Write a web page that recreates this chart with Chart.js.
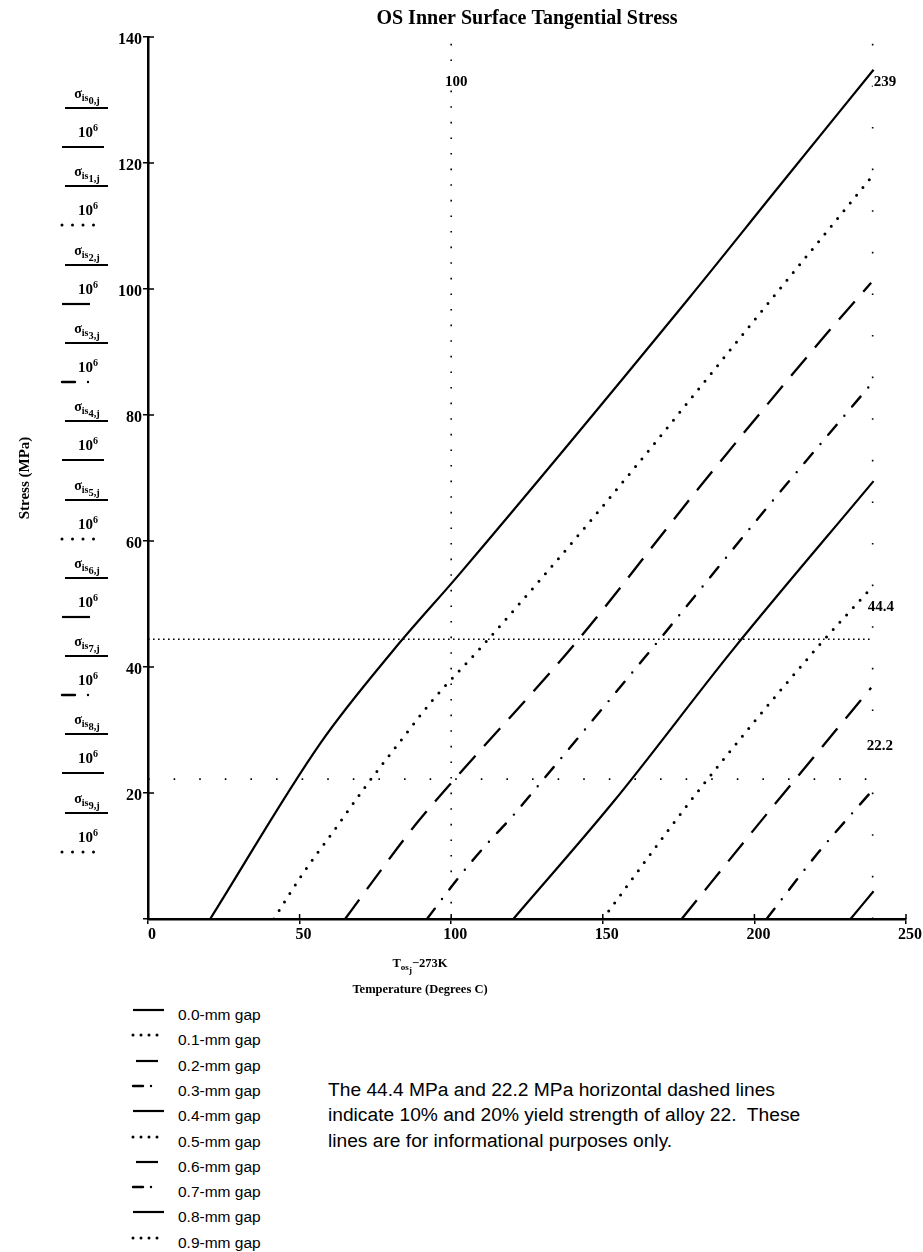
<!DOCTYPE html>
<html>
<head>
<meta charset="utf-8">
<script src="https://cdn.jsdelivr.net/npm/chart.js@4.4.0/dist/chart.umd.min.js"></script>
<style>
  body { margin: 0; background: #fff; }
  #page { position: relative; width: 923px; height: 1252px; background: #fff; overflow: hidden; }
  #chart { position: absolute; left: 0; top: 0; }
  .serif { font-family: "Liberation Serif", "DejaVu Serif", serif; font-weight: bold; color: #000; }
  .abs { position: absolute; }
  .num { width: 50px; text-align: center; font-size: 14px; line-height: 16px; white-space: nowrap; }
  .num sub { font-size: 10px; vertical-align: -3px; }
  .num sub sub { font-size: 10.5px; vertical-align: -3px; }
  .den { width: 50px; text-align: center; font-size: 15px; line-height: 16px; }
  .den sup { font-size: 10px; vertical-align: 6px; }
  .bar { height: 0; border-top: 2px solid #000; }
  .xexpr { left: 340px; width: 160px; top: 956px; text-align: center; font-size: 12.5px; line-height: 15px; }
  .xexpr sub { font-size: 9px; vertical-align: -3px; }
  .xtitle { left: 320px; width: 200px; top: 982px; text-align: center; font-size: 12.5px; line-height: 15px; }
  .gap { left: 178px; font-family: "Liberation Sans", Arial, sans-serif; font-size: 15.5px; line-height: 18px; color: #000; }
  .note { left: 328px; top: 1077px; font-family: "Liberation Sans", Arial, sans-serif; font-size: 19.2px; line-height: 25.4px; color: #000; white-space: nowrap; }
</style>
</head>
<body>
<div id="page">
  <canvas id="chart" width="923" height="1000"></canvas>
  <div class="abs serif xexpr">T<sub>os<sub>j</sub></sub>−273K</div>
  <div class="abs serif xtitle">Temperature (Degrees C)</div>
  <div class="abs note">The 44.4 MPa and 22.2 MPa horizontal dashed lines<br>indicate 10% and 20% yield strength of alloy 22.&nbsp; These<br>lines are for informational purposes only.</div>
</div>
<script>
// axes
const xTicks = [0, 50, 100, 150, 200, 250];
const yTicks = [0, 20, 40, 60, 80, 100, 120, 140];

const gapLabels = ['0.0-mm gap', '0.1-mm gap', '0.2-mm gap', '0.3-mm gap', '0.4-mm gap',
                   '0.5-mm gap', '0.6-mm gap', '0.7-mm gap', '0.8-mm gap', '0.9-mm gap'];

// temperature (deg C) / stress (MPa), one pair per gap
const t0 = [20.5, 57, 81, 103, 178, 208.5, 239.3];
const s0 = [0, 28, 42.7, 54.9, 98.3, 116.5, 134.8];
const t1 = [41.5, 51.2, 61, 72, 84, 94, 110, 147, 205, 239];
const s1 = [0, 7.3, 13.8, 21.2, 28.7, 34.8, 43.2, 63.8, 98, 118];
const t2 = [65, 72, 88.6, 103, 141, 182, 224, 238.5];
const s2 = [0, 4.6, 15.2, 23.2, 43.8, 68.6, 93, 101];
const t3 = [92, 102.3, 111, 120, 128.4, 166.7, 204, 238.3];
const s3 = [0, 6.5, 11.5, 16.2, 21, 43.2, 65.2, 84.8];
const t4 = [120.5, 153.5, 193, 239.3];
const s4 = [0, 18.6, 42.8, 69.5];
const t5 = [150, 180, 220, 237.5];
const s5 = [0, 19.4, 42.7, 52];
const t6 = [176, 204.3, 238.5];
const s6 = [0, 16.8, 36.7];
const t7 = [204, 221, 238.5];
const s7 = [0, 10.5, 20.2];
const t8 = [231.7, 239.3];
const s8 = [0, 4.4];
const t9 = [];
const s9 = [];

// marker lines
const markerX = [100, 239];
const markerY = [44.4, 22.2];

const temps = [t0, t1, t2, t3, t4, t5, t6, t7, t8, t9];
const stresses = [s0, s1, s2, s3, s4, s5, s6, s7, s8, s9];

const lineStyles = {
    solid:   { dash: [], cap: 'butt', width: 2.2 },
    dotted:  { dash: [0, 10], cap: 'round', width: 3 },
    dashed:  { dash: [24, 13], cap: 'butt', width: 2.3 },
    dashdot: { dash: [13, 12, 0, 12], cap: 'round', width: 2.4 }
};
const styleOrder = ['solid', 'dotted', 'dashed', 'dashdot'];

const curveSets = temps.map((t, i) => {
    const st = lineStyles[styleOrder[i % 4]];
    return {
        label: gapLabels[i],
        data: t.map((v, k) => ({ x: v, y: stresses[i][k] })),
        showLine: true,
        borderColor: '#000',
        borderWidth: st.width,
        borderDash: st.dash,
        borderCapStyle: st.cap,
        pointRadius: 0,
        cubicInterpolationMode: 'monotone',
        fill: false
    };
});

const yMax = yTicks[yTicks.length - 1];
function marker(points, dash) {
    return {
        label: 'marker',
        data: points,
        showLine: true,
        borderColor: '#000',
        borderWidth: 1.6,
        borderDash: dash,
        pointRadius: 0,
        fill: false
    };
}
const markerSets = [
    marker([{ x: markerX[0], y: 0 }, { x: markerX[0], y: yMax }], [1.6, 14]),
    marker([{ x: markerX[1], y: 0 }, { x: markerX[1], y: yMax }], [1.6, 40]),
    marker([{ x: xTicks[0], y: markerY[0] }, { x: markerX[1], y: markerY[0] }], [1.6, 3.4]),
    marker([{ x: xTicks[0], y: markerY[1] }, { x: markerX[1], y: markerY[1] }], [1.6, 24])
];

// inner tick marks and the marker values written in the plot
const plotExtras = {
    id: 'plotExtras',
    afterDatasetsDraw(chart) {
        const { ctx, chartArea: a, scales: { x, y } } = chart;
        ctx.save();
        ctx.strokeStyle = '#000';
        ctx.lineWidth = 1.5;
        ctx.beginPath();
        xTicks.forEach(v => {
            const px = x.getPixelForValue(v);
            ctx.moveTo(px, a.bottom);
            ctx.lineTo(px, a.bottom - 5);
        });
        yTicks.forEach(v => {
            const py = y.getPixelForValue(v);
            ctx.moveTo(a.left, py);
            ctx.lineTo(a.left + 6, py);
        });
        ctx.stroke();

        ctx.font = 'bold 15px "Liberation Serif"';
        ctx.textBaseline = 'middle';
        const label = (txt, px, py, align) => {
            ctx.textAlign = align;
            const w = ctx.measureText(txt).width;
            const lx = align === 'center' ? px - w / 2 : px;
            ctx.fillStyle = '#fff';
            ctx.fillRect(lx - 1, py - 8, w + 2, 16);
            ctx.fillStyle = '#000';
            ctx.fillText(txt, px, py);
        };
        const x239 = x.getPixelForValue(markerX[1]);
        label(String(markerX[0]), x.getPixelForValue(markerX[0]) + 5, a.top + 45, 'center');
        label(String(markerX[1]), x239 + 1, a.top + 45, 'left');
        label(String(markerY[0]), x239 - 5, y.getPixelForValue(markerY[0]) - 32, 'left');
        label(String(markerY[1]), x239 - 6, y.getPixelForValue(markerY[1]) - 33, 'left');
        ctx.restore();
    }
};

const tickFont = { family: 'Liberation Serif', size: 16, weight: 'bold' };

new Chart(document.getElementById('chart'), {
    type: 'scatter',
    data: { datasets: curveSets.concat(markerSets) },
    options: {
        responsive: false,
        animation: false,
        layout: { padding: { left: 0, right: 17, top: 0, bottom: 0 } },
        plugins: {
            legend: { display: false },
            tooltip: { enabled: false },
            title: {
                display: true,
                text: 'OS Inner Surface Tangential Stress',
                fullSize: false,
                color: '#000',
                font: { family: 'Liberation Serif', size: 20, weight: 'bold' },
                padding: { top: 7, bottom: 6 }
            }
        },
        scales: {
            x: {
                type: 'linear',
                min: xTicks[0],
                max: xTicks[xTicks.length - 1],
                afterBuildTicks: s => { s.ticks = xTicks.map(v => ({ value: v })); },
                afterFit: s => { s.height = 81; },
                grid: { drawOnChartArea: false, drawTicks: true, tickLength: 5, color: '#000', lineWidth: 1.5 },
                border: { display: true, color: '#000', width: 2.5 },
                ticks: { color: '#000', font: tickFont, padding: 1, labelOffset: 4, maxRotation: 0 }
            },
            y: {
                type: 'linear',
                min: yTicks[0],
                max: yMax,
                afterBuildTicks: s => { s.ticks = yTicks.map(v => ({ value: v })); },
                afterFit: s => { s.width = 148; },
                grid: { drawOnChartArea: false, drawTicks: true, tickLength: 5, color: '#000', lineWidth: 1.5 },
                border: { display: true, color: '#000', width: 2.5 },
                ticks: { color: '#000', font: tickFont, padding: 1, labelOffset: 3,
                         callback: v => v === 0 ? '' : v },
                title: {
                    display: true,
                    text: 'Stress (MPa)',
                    color: '#000',
                    font: { family: 'Liberation Serif', size: 15, weight: 'bold' },
                    padding: { top: 16, bottom: 0 }
                }
            }
        }
    },
    plugins: [plotExtras]
});

// small line samples for the two keys
const svgDash = {
    solid: { dash: '', cap: 'butt', w: 2.2 },
    dotted: { dash: '0 8', cap: 'round', w: 3 },
    dashed: { dash: '', cap: 'butt', w: 2.2 },
    dashdot: { dash: '10 8 0 30', cap: 'round', w: 2.4 }
};
function sample(kind, left, top, len, dash) {
    const st = svgDash[kind];
    const svg = document.createElementNS('http://www.w3.org/2000/svg', 'svg');
    svg.setAttribute('width', len + 4);
    svg.setAttribute('height', 6);
    svg.style.position = 'absolute';
    svg.style.left = (left - 2) + 'px';
    svg.style.top = (top - 3) + 'px';
    const ln = document.createElementNS('http://www.w3.org/2000/svg', 'line');
    ln.setAttribute('x1', 2); ln.setAttribute('x2', len + 2);
    ln.setAttribute('y1', 3); ln.setAttribute('y2', 3);
    ln.setAttribute('stroke', '#000');
    ln.setAttribute('stroke-width', st.w);
    ln.setAttribute('stroke-linecap', st.cap);
    const d = dash || st.dash;
    if (d) ln.setAttribute('stroke-dasharray', d);
    svg.appendChild(ln);
    document.getElementById('page').appendChild(svg);
}
const keyLens = { solid: 42, dotted: 34, dashed: 28, dashdot: 27 };
const keyDash = { dotted: '0 10.5', dashdot: '13 13 0 30' };
const gapLens = { solid: 31, dotted: 25, dashed: 22, dashdot: 22 };

const page = document.getElementById('page');
gapLabels.forEach((g, i) => {
    const kind = styleOrder[i % 4];
    // Mathcad trace key left of the y axis
    const barY = 108 + i * 78.3;
    const num = document.createElement('div');
    num.className = 'abs serif num';
    num.style.left = '62px';
    num.style.top = (barY - 22) + 'px';
    num.innerHTML = 'σ<sub>is<sub>' + i + ',j</sub></sub>';
    page.appendChild(num);
    const bar = document.createElement('div');
    bar.className = 'abs bar';
    bar.style.left = '65px';
    bar.style.width = '43px';
    bar.style.top = (barY - 1) + 'px';
    page.appendChild(bar);
    const den = document.createElement('div');
    den.className = 'abs serif den';
    den.style.left = '63px';
    den.style.top = (barY + 12) + 'px';
    den.innerHTML = '10<sup>6</sup>';
    page.appendChild(den);
    sample(kind, 62, barY + 39, keyLens[kind], keyDash[kind]);

    // gap key under the plot
    const rowY = 1015 + i * 25.3;
    const txt = document.createElement('div');
    txt.className = 'abs gap';
    txt.style.top = (rowY - 9) + 'px';
    txt.textContent = g;
    page.appendChild(txt);
    sample(kind, kind === 'dashed' ? 136 : 133, rowY - 5, gapLens[kind]);
});
</script>
</body>
</html>
